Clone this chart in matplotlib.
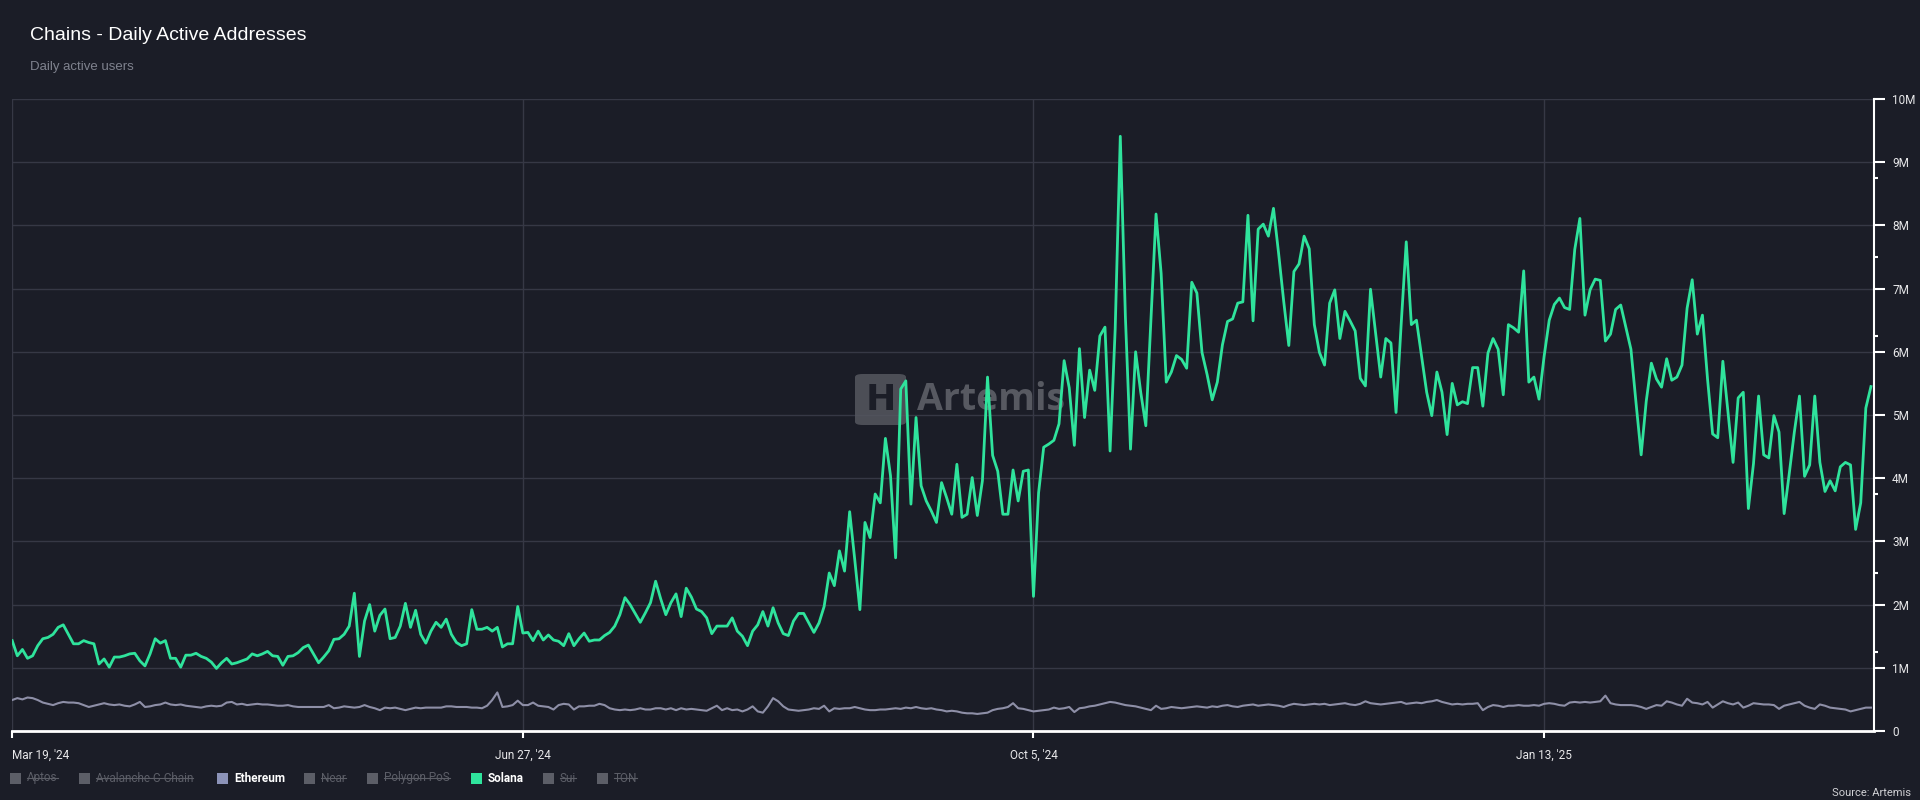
import pandas as pd
import matplotlib
matplotlib.use("Agg")
import matplotlib.pyplot as plt
import matplotlib.ticker as mticker
from matplotlib.patches import Rectangle, FancyBboxPatch
from matplotlib.lines import Line2D

# ------------------------------
# Data (daily active addresses, millions)
# ------------------------------
start_date = "2024-03-19"
tick_dates = ["2024-03-19", "2024-06-27", "2024-10-05", "2025-01-13"]
tick_labels = ["Mar 19, '24", "Jun 27, '24", "Oct 5, '24", "Jan 13, '25"]
y_ticks = [0, 1, 2, 3, 4, 5, 6, 7, 8, 9, 10]
y_minor = [1.25, 2.5, 3.75, 6.25, 7.5, 8.75]

legend_names = ["Aptos", "Avalanche C-Chain", "Ethereum", "Near",
                "Polygon PoS", "Solana", "Sui", "TON"]
legend_active = [False, False, True, False, False, True, False, False]

solana = [
    1.43, 1.19, 1.29, 1.15, 1.19, 1.35, 1.46, 1.48, 1.53,
    1.64, 1.68, 1.53, 1.38, 1.38, 1.43, 1.40, 1.38, 1.06, 1.14,
    1.01, 1.17, 1.17, 1.19, 1.22, 1.23, 1.11, 1.03, 1.22, 1.46,
    1.39, 1.43, 1.15, 1.15, 1.01, 1.20, 1.20, 1.23, 1.18, 1.15,
    1.09, 0.99, 1.08, 1.15, 1.06, 1.08, 1.11, 1.14, 1.22, 1.19,
    1.22, 1.26, 1.19, 1.18, 1.04, 1.18, 1.19, 1.24, 1.32,
    1.36, 1.22, 1.08, 1.17, 1.27, 1.45, 1.46, 1.53, 1.66, 2.18,
    1.18, 1.74, 2.00, 1.58, 1.83, 1.93, 1.46, 1.48, 1.66, 2.02,
    1.64, 1.91, 1.53, 1.39, 1.58, 1.72, 1.64, 1.77, 1.53, 1.40,
    1.35, 1.38, 1.92, 1.61, 1.61, 1.64, 1.58, 1.64,
    # Jun
    1.33, 1.38, 1.38, 1.97, 1.55, 1.56, 1.43, 1.58, 1.44, 1.52,
    1.44, 1.42, 1.35, 1.54, 1.35, 1.46, 1.55, 1.42, 1.44, 1.44,
    1.51, 1.56, 1.66, 1.84, 2.11, 2.00, 1.86, 1.72, 1.87, 2.03,
    2.37, 2.09, 1.84, 2.03, 2.17, 1.81, 2.26, 2.12, 1.93, 1.89,
    1.79, 1.54, 1.66, 1.66, 1.66, 1.79, 1.58, 1.50, 1.35, 1.58,
    1.68, 1.89, 1.66, 1.95, 1.71, 1.54, 1.51, 1.74, 1.86, 1.86,
    1.71, 1.56, 1.71, 1.97, 2.50, 2.30, 2.85, 2.53, 3.47, 2.71,
    1.92, 3.30, 3.06, 3.75, 3.61, 4.63, 4.04, 2.74, 5.41, 5.54,
    3.59, 4.96, 3.88, 3.64, 3.48, 3.30, 3.93, 3.69, 3.43, 4.22,
    3.38, 3.43, 4.01, 3.41, 3.96, 5.60,
    # Sep / Oct
    4.36, 4.11, 3.43, 3.43, 4.13, 3.64, 4.11, 4.13, 2.13, 3.77,
    4.49, 4.54, 4.60, 4.86, 5.86, 5.43, 4.52, 6.05, 4.96, 5.71,
    5.39, 6.25, 6.39, 4.43, 6.36, 9.41, 6.55, 4.46, 6.00, 5.36,
    4.83, 6.49, 8.18, 7.24, 5.52, 5.68, 5.94, 5.88, 5.74, 7.10,
    6.93, 5.99, 5.64, 5.24, 5.52, 6.11, 6.48, 6.52, 6.77, 6.79,
    8.16, 6.49, 7.94, 8.02, 7.83, 8.27, 7.56, 6.80, 6.10, 7.27,
    7.39, 7.83, 7.63, 6.43, 5.99, 5.79, 6.77, 6.98, 6.21, 6.64,
    6.49, 6.33, 5.58, 5.46, 6.99, 6.30, 5.60, 6.21, 6.14, 5.04,
    6.43, 7.74, 6.43, 6.50, 5.93, 5.36, 4.99, 5.68, 5.36, 4.69,
    5.50, 5.16, 5.21, 5.18, 5.75, 5.75,
    # Jan
    5.14, 5.98, 6.21, 6.04, 5.32, 6.43, 6.38, 6.31, 7.28, 5.52,
    5.60, 5.25, 5.93, 6.50, 6.75, 6.85, 6.70, 6.67, 7.62, 8.11,
    6.58, 6.98, 7.15, 7.13, 6.17, 6.28, 6.67, 6.74, 6.39, 6.04,
    5.19, 4.37, 5.22, 5.82, 5.57, 5.44, 5.89, 5.55, 5.60, 5.79,
    6.69, 7.14, 6.28, 6.58, 5.57, 4.70, 4.64, 5.85, 5.05, 4.25,
    5.27, 5.36, 3.52, 4.23, 5.30, 4.37, 4.32, 4.99, 4.73, 3.44,
    4.07, 4.73, 5.30, 4.03, 4.21, 5.30, 4.25, 3.79, 3.96, 3.80,
    4.18, 4.25, 4.21, 3.19, 3.61, 5.11, 5.45,
]

ethereum = [
    0.49, 0.52, 0.50, 0.53, 0.52, 0.49, 0.45, 0.43, 0.41, 0.44,
    0.46, 0.45, 0.45, 0.44, 0.41, 0.38, 0.40, 0.42, 0.44, 0.42,
    0.41, 0.42, 0.40, 0.39, 0.42, 0.46, 0.38, 0.39, 0.41, 0.42,
    0.45, 0.42, 0.41, 0.42, 0.40, 0.39, 0.38, 0.37, 0.39, 0.40,
    0.39, 0.40, 0.45, 0.46, 0.42, 0.43, 0.41, 0.42, 0.43, 0.42,
    0.42, 0.41, 0.40, 0.40, 0.41, 0.39, 0.38, 0.38, 0.38, 0.38,
    0.38, 0.38, 0.41, 0.36, 0.37, 0.39, 0.38, 0.37, 0.38, 0.41,
    0.38, 0.36, 0.33, 0.37, 0.36, 0.37, 0.35, 0.33, 0.35, 0.37,
    0.36, 0.37, 0.37, 0.37, 0.37, 0.39, 0.39, 0.38, 0.38, 0.38,
    0.37, 0.37, 0.36, 0.40, 0.49, 0.61,
    0.38, 0.39, 0.41, 0.48, 0.41, 0.41, 0.45, 0.40, 0.39, 0.38,
    0.34, 0.41, 0.43, 0.42, 0.34, 0.39, 0.39, 0.40, 0.40, 0.43,
    0.41, 0.36, 0.34, 0.33, 0.34, 0.33, 0.34, 0.36, 0.34, 0.34,
    0.36, 0.36, 0.34, 0.36, 0.33, 0.36, 0.34, 0.35, 0.34, 0.33,
    0.32, 0.36, 0.40, 0.33, 0.36, 0.33, 0.34, 0.31, 0.34, 0.39,
    0.31, 0.29, 0.39, 0.52, 0.47, 0.39, 0.34, 0.33, 0.32, 0.33,
    0.34, 0.36, 0.35, 0.40, 0.31, 0.36, 0.35, 0.36, 0.36, 0.38,
    0.36, 0.34, 0.33, 0.33, 0.34, 0.34, 0.35, 0.36, 0.35, 0.37,
    0.36, 0.38, 0.36, 0.35, 0.36, 0.34, 0.33, 0.31, 0.32, 0.31,
    0.29, 0.28, 0.28, 0.27, 0.28, 0.29,
    0.33, 0.35, 0.36, 0.38, 0.44, 0.36, 0.35, 0.33, 0.31, 0.32,
    0.33, 0.34, 0.37, 0.35, 0.36, 0.38, 0.30, 0.36, 0.37, 0.39,
    0.40, 0.42, 0.44, 0.46, 0.45, 0.43, 0.41, 0.40, 0.39, 0.37,
    0.35, 0.33, 0.40, 0.35, 0.36, 0.38, 0.37, 0.36, 0.37, 0.38,
    0.39, 0.38, 0.37, 0.39, 0.38, 0.40, 0.41, 0.39, 0.38, 0.40,
    0.41, 0.42, 0.40, 0.41, 0.42, 0.41, 0.40, 0.38, 0.41, 0.43,
    0.42, 0.41, 0.42, 0.43, 0.42, 0.43, 0.41, 0.42, 0.43, 0.44,
    0.42, 0.41, 0.43, 0.47, 0.44, 0.43, 0.42, 0.43, 0.44, 0.45,
    0.46, 0.43, 0.44, 0.45, 0.44, 0.46, 0.47, 0.49, 0.46, 0.44,
    0.42, 0.43, 0.42, 0.43, 0.43, 0.44,
    0.33, 0.38, 0.41, 0.40, 0.38, 0.40, 0.40, 0.41, 0.40, 0.40,
    0.41, 0.40, 0.43, 0.44, 0.43, 0.41, 0.40, 0.45, 0.46, 0.45,
    0.46, 0.45, 0.46, 0.47, 0.56, 0.44, 0.42, 0.41, 0.41, 0.41,
    0.40, 0.38, 0.35, 0.38, 0.41, 0.40, 0.47, 0.45, 0.42, 0.40,
    0.51, 0.45, 0.44, 0.42, 0.46, 0.37, 0.42, 0.47, 0.44, 0.42,
    0.45, 0.37, 0.40, 0.44, 0.43, 0.42, 0.42, 0.41, 0.35, 0.40,
    0.42, 0.44, 0.46, 0.40, 0.37, 0.35, 0.42, 0.40, 0.37, 0.36,
    0.35, 0.34, 0.31, 0.33, 0.35, 0.37, 0.37,
]

# ------------------------------
# Style
# ------------------------------
BG = "#1b1d27"
GRID = "#363845"
SOL_COLOR = "#2fe39c"
ETH_COLOR = "#8e8fa7"
ETH_SWATCH = "#8c93b8"
OFF_COLOR = "#5c5e67"
W, H = 1920, 800

plt.rcParams["font.family"] = ["Roboto", "DejaVu Sans"]

dates = pd.date_range(start_date, periods=len(solana), freq="D")
eth_dates = pd.date_range(start_date, periods=len(ethereum), freq="D")

fig = plt.figure(figsize=(W / 100, H / 100), dpi=100, facecolor=BG)
ax = fig.add_axes([12.2 / W, 1 - 731 / H, (1874 - 12.2) / W, (731 - 99) / H])
ax.set_facecolor(BG)

ax.plot(eth_dates, ethereum, color=ETH_COLOR, lw=1.5, zorder=3)
ax.plot(dates, solana, color=SOL_COLOR, lw=2.0, zorder=4)

x0 = pd.Timestamp(start_date)
ax.set_xlim(x0, x0 + pd.Timedelta(days=364.6))
ax.set_ylim(0, 10)

# axes / ticks
ax.set_xticks(pd.to_datetime(tick_dates))
ax.set_xticklabels(tick_labels)
ax.get_xticklabels()[0].set_horizontalalignment("left")
ax.yaxis.tick_right()
ax.set_yticks(y_ticks)
ax.set_yticks(y_minor, minor=True)
ax.yaxis.set_major_formatter(mticker.FuncFormatter(
    lambda v, p: "0" if v == 0 else f"{int(v)}M"))
ax.tick_params(axis="x", colors="white", length=5, width=1.5, pad=8,
               labelsize=8.5, labelcolor="#e8e8ea")
ax.tick_params(axis="y", which="major", colors="white", length=8, width=1.5,
               pad=5, labelsize=8.5, labelcolor="#e8e8ea")
ax.tick_params(axis="y", which="minor", colors="white", length=3, width=1.5)

for s in ["top", "left"]:
    ax.spines[s].set_visible(False)
ax.spines["bottom"].set_color("white")
ax.spines["bottom"].set_linewidth(2)
ax.spines["right"].set_color("white")
ax.spines["right"].set_linewidth(1.5)

ax.set_axisbelow(True)
ax.grid(True, which="major", color=GRID, lw=1)

# watermark
logo = FancyBboxPatch((855 / W, 1 - 425 / H), 51 / W, 51 / H,
                      boxstyle="round,pad=0,rounding_size=0.004",
                      transform=fig.transFigure, facecolor="#55575f",
                      edgecolor="none", alpha=0.85, zorder=2, clip_on=False)
ax.add_artist(logo)
ax.text(880.5 / W, 1 - 400 / H, "H", transform=fig.transFigure, ha="center",
        va="center", fontsize=26, fontweight="bold", color="#1b1d27",
        zorder=2.1, family=["DejaVu Sans"])
ax.text(917 / W, 1 - 400 / H, "Artemis", transform=fig.transFigure,
        ha="left", va="center", fontsize=27, fontweight="bold",
        color="#5e6068", alpha=0.9, zorder=2, family=["Open Sans", "DejaVu Sans"])

# titles
fig.text(30 / W, 1 - 40 / H, "Chains - Daily Active Addresses", color="white",
         fontsize=14, va="baseline", family=["Liberation Sans", "DejaVu Sans"])
fig.text(30 / W, 1 - 70 / H, "Daily active users", color="#7f828e",
         fontsize=9.5, va="baseline", family=["Liberation Sans", "DejaVu Sans"])
fig.text(1911 / W, 1 - 793 / H, "Source: Artemis", color="#d0d0d4",
         fontsize=8, ha="right", va="center")

# ------------------------------
# Legend (manual)
# ------------------------------
swatch_x = [10, 79, 217, 304, 367, 471, 543, 597]
legend_y = 778
renderer = fig.canvas.get_renderer()
for name, sx, on in zip(legend_names, swatch_x, legend_active):
    if name == "Ethereum":
        sw = ETH_SWATCH
    elif name == "Solana":
        sw = SOL_COLOR
    else:
        sw = OFF_COLOR
    fig.add_artist(Rectangle((sx / W, 1 - (legend_y + 5.5) / H), 11 / W, 11 / H,
                             transform=fig.transFigure, facecolor=sw,
                             edgecolor="none"))
    t = fig.text((sx + 17) / W, 1 - legend_y / H, name, va="center",
                 fontsize=8.5, color="white" if on else OFF_COLOR,
                 fontweight="bold" if on else "normal")
    if not on:
        bb = t.get_window_extent(renderer)
        fig.add_artist(Line2D([bb.x0 / W, bb.x1 / W],
                              [(bb.y0 + bb.y1) / 2 / H] * 2,
                              transform=fig.transFigure, color=OFF_COLOR, lw=0.8))

fig.savefig("out.png", dpi=100, facecolor=BG)
